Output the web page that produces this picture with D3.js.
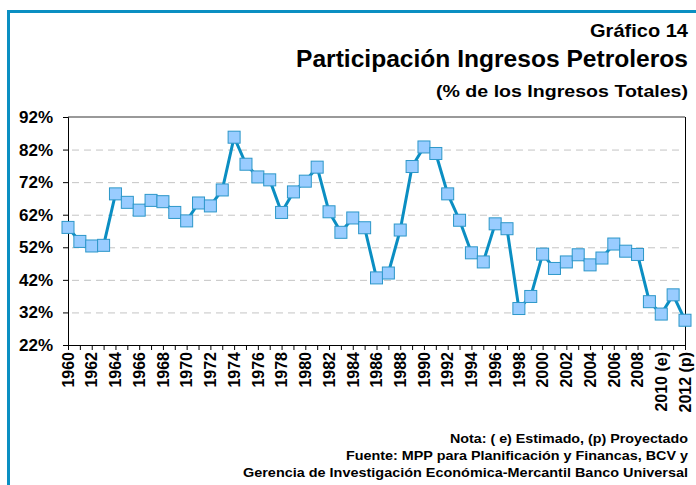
<!DOCTYPE html>
<html>
<head>
<meta charset="utf-8">
<script src="https://cdn.jsdelivr.net/npm/d3@7"></script>
<style>
body { margin: 0; background: #fff; }
svg { display: block; font-family: "Liberation Sans", Arial, sans-serif; font-weight: bold; }
</style>
</head>
<body>
<script>
// Participación ingresos petroleros (% de ingresos totales)
var years = d3.range(1960, 2013);
var values = [58.1, 53.8, 52.4, 52.6, 68.4, 65.8, 63.4, 66.4, 66.0, 62.7,
              60.1, 65.6, 64.7, 69.6, 85.8, 77.5, 73.6, 72.7, 62.7, 69.0,
              72.3, 76.6, 62.9, 56.6, 61.0, 58.0, 42.6, 44.1, 57.3, 76.8,
              82.8, 80.8, 68.4, 60.3, 50.3, 47.5, 59.2, 57.7, 33.2, 36.9,
              49.9, 45.5, 47.5, 49.7, 46.6, 48.7, 53.0, 50.8, 49.8, 35.3,
              31.5, 37.4, 29.6];
var yTicks = [22, 32, 42, 52, 62, 72, 82, 92];
var yearLabels = {2010: "2010 (e)", 2012: "2012 (p)"};
var titles = ["Gráfico 14", "Participación Ingresos Petroleros", "(% de los Ingresos Totales)"];
var notes = ["Nota: ( e) Estimado, (p) Proyectado",
             "Fuente: MPP para Planificación y Financas, BCV y",
             "Gerencia de Investigación Económica-Mercantil Banco Universal"];

var W = 696, H = 485;
var plotL = 68, plotR = 685, plotT = 117, plotB = 345;

var svg = d3.select("body").append("svg")
    .attr("width", W)
    .attr("height", H);

// blue frame (left + top)
svg.append("path")
    .attr("d", "M8.5," + H + "V11.5H" + W)
    .attr("fill", "none")
    .attr("stroke", "#0a8fc2")
    .attr("stroke-width", 3);

// titles
var titleY = [37, 67, 97], titleSize = [19, 23, 17], titleLen = [98, 392, 252];
titles.forEach(function (t, i) {
    svg.append("text")
        .attr("x", 688)
        .attr("y", titleY[i])
        .attr("text-anchor", "end")
        .attr("textLength", titleLen[i])
        .attr("lengthAdjust", "spacingAndGlyphs")
        .style("font-size", titleSize[i] + "px")
        .text(t);
});

// scales
var x = d3.scaleLinear().domain([1960, 2012]).range([plotL, plotR]);
var y = d3.scaleLinear().domain([22, 92]).range([plotB, plotT]);

// gridlines
svg.append("g")
    .selectAll("line")
    .data(yTicks.filter(function (d) { return d > 22 && d < 92; }))
    .enter().append("line")
    .attr("x1", plotL + 4).attr("x2", plotR - 4)
    .attr("y1", function (d) { return y(d) + 0.5; })
    .attr("y2", function (d) { return y(d) + 0.5; })
    .attr("stroke", "#c4c4c4")
    .attr("stroke-width", 1)
    .attr("stroke-dasharray", "7,5");

// top border
svg.append("line")
    .attr("x1", plotL).attr("x2", plotR)
    .attr("y1", y(92)).attr("y2", y(92))
    .attr("stroke", "#777")
    .attr("stroke-width", 1.5);

// right border
svg.append("line")
    .attr("x1", plotR + 0.5).attr("x2", plotR + 0.5)
    .attr("y1", y(92)).attr("y2", y(22))
    .attr("stroke", "#000")
    .attr("stroke-width", 1);

// y axis
var yAxis = svg.append("g")
    .attr("transform", "translate(" + plotL + ",0)")
    .call(d3.axisLeft(y).tickValues(yTicks).tickSize(5).tickPadding(10)
        .tickFormat(function (d) { return d + "%"; }));
yAxis.selectAll("text").style("font-size", "17px").attr("fill", "#000");
yAxis.select(".domain").attr("stroke", "#000");

// x axis
var xAxis = svg.append("g")
    .attr("transform", "translate(0," + plotB + ")")
    .call(d3.axisBottom(x).tickValues(years).tickSize(5).tickSizeOuter(0).tickFormat(""));
xAxis.select(".domain").attr("stroke", "#000");
xAxis.selectAll("line").attr("stroke", "#000");

svg.append("g")
    .selectAll("text")
    .data(years.filter(function (d) { return d % 2 === 0; }))
    .enter().append("text")
    .attr("transform", function (d) { return "translate(" + x(d) + "," + (plotB + 7) + ") rotate(-90)"; })
    .attr("dy", "0.36em")
    .attr("text-anchor", "end")
    .style("font-size", "16px")
    .text(function (d) { return yearLabels[d] || d; });

// line
var line = d3.line()
    .x(function (d, i) { return x(years[i]); })
    .y(function (d) { return y(d); });

svg.append("path")
    .datum(values)
    .attr("fill", "none")
    .attr("stroke", "#0b8ec2")
    .attr("stroke-width", 3)
    .attr("stroke-linejoin", "round")
    .attr("d", line);

// markers
svg.append("g")
    .selectAll("rect")
    .data(values)
    .enter().append("rect")
    .attr("x", function (d, i) { return x(years[i]) - 6; })
    .attr("y", function (d) { return y(d) - 6; })
    .attr("width", 12)
    .attr("height", 12)
    .attr("fill", "#99ccff")
    .attr("stroke", "#2c97c9")
    .attr("stroke-width", 1);

// notes
var noteY = [443, 460, 477], noteLen = [238, 342, 445];
notes.forEach(function (t, i) {
    svg.append("text")
        .attr("x", 688)
        .attr("y", noteY[i])
        .attr("text-anchor", "end")
        .attr("textLength", noteLen[i])
        .attr("lengthAdjust", "spacingAndGlyphs")
        .style("font-size", "13px")
        .text(t);
});
</script>
</body>
</html>
